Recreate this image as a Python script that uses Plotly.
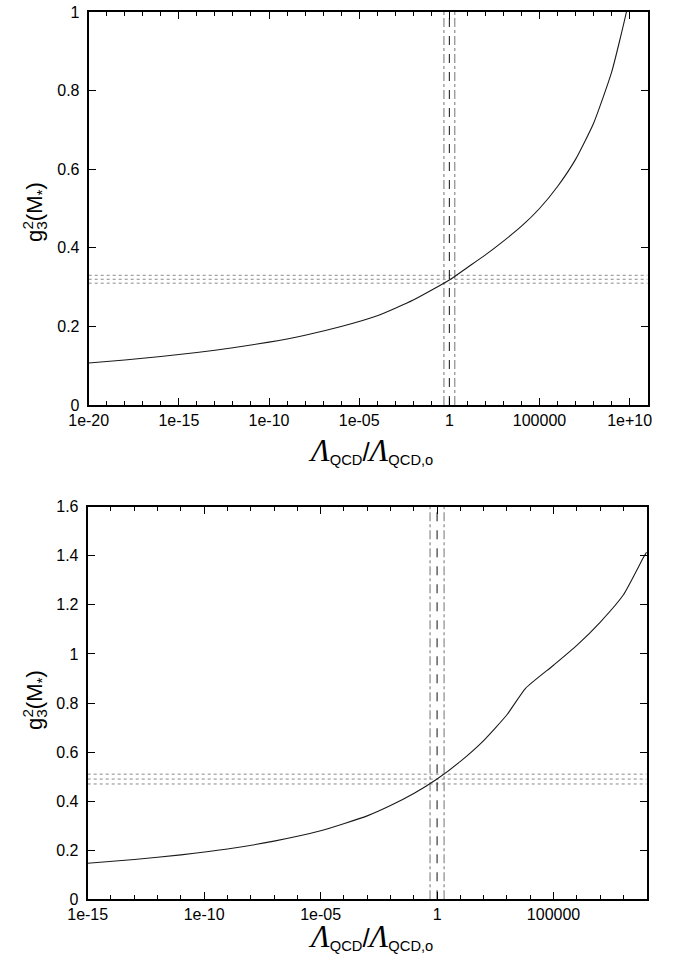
import plotly.graph_objects as go

# ---------------- data ----------------
# top panel: log10(Lambda_QCD / Lambda_QCD,o) and g3^2(M*)
top_logx = [-20, -18, -16, -14, -12, -10, -8, -6, -4, -2, 0, 1, 2, 3, 4, 5, 6, 7, 8, 9, 9.82, 10.3]
top_g2 = [0.107, 0.1145, 0.1233, 0.1335, 0.1456, 0.160, 0.1776, 0.1996, 0.227, 0.267, 0.318,
          0.350, 0.382, 0.417, 0.455, 0.500, 0.556, 0.625, 0.717, 0.847, 1.000, 1.117]
top_hlines = [0.33, 0.32, 0.31]

# bottom panel
bot_logx = [-15, -13, -11, -9, -7, -5, -3, -2, -1, 0, 1, 2, 3, 3.79, 5, 6, 7, 8, 8.87, 9.0]
bot_g2 = [0.147, 0.162, 0.181, 0.205, 0.237, 0.279, 0.340, 0.382, 0.431, 0.490, 0.562,
          0.647, 0.752, 0.859, 0.954, 1.035, 1.129, 1.241, 1.395, 1.415]
bot_hlines = [0.51, 0.49, 0.47]

# vertical reference lines (Lambda ratio)
vlines = [0.5, 1.0, 2.0]

top_xticks = [1e-20, 1e-15, 1e-10, 1e-5, 1, 1e5, 1e10]
top_xticktext = ["1e-20", "1e-15", "1e-10", "1e-05", "1", "100000", "1e+10"]
bot_xticks = [1e-15, 1e-10, 1e-5, 1, 1e5]
bot_xticktext = ["1e-15", "1e-10", "1e-05", "1", "100000"]
top_yticks = [0, 0.2, 0.4, 0.6, 0.8, 1.0]
top_yticktext = ["0", "0.2", "0.4", "0.6", "0.8", "1"]
bot_yticks = [0, 0.2, 0.4, 0.6, 0.8, 1.0, 1.2, 1.4, 1.6]
bot_yticktext = ["0", "0.2", "0.4", "0.6", "0.8", "1", "1.2", "1.4", "1.6"]

top_xrange_log = [-20, 11]
bot_xrange_log = [-15, 9]
top_yrange = [0, 1]
bot_yrange = [0, 1.6]

# ---------------- figure ----------------
W, H = 675, 962
FONT = "Liberation Sans, Arial, Helvetica, sans-serif"
fig = go.Figure()

def add_panel(xa, ya, logx, g2, hl, xr, yr):
    xs = [10 ** v for v in logx]
    lo, hi = 10 ** xr[0], 10 ** xr[1]
    for h in hl:
        fig.add_trace(go.Scatter(x=[lo, hi], y=[h, h], mode="lines", xaxis=xa, yaxis=ya,
                                 line=dict(color="#8a8a8a", width=1, dash="dot"), showlegend=False,
                                 hoverinfo="skip"))
    for v in vlines:
        if v == 1.0:
            ln = dict(color="#111111", width=1, dash="dash")
        else:
            ln = dict(color="#8a8a8a", width=1.2, dash="dashdot")
        fig.add_trace(go.Scatter(x=[v, v], y=[yr[0], yr[1]], mode="lines", xaxis=xa, yaxis=ya,
                                 line=ln, showlegend=False, hoverinfo="skip"))
    fig.add_trace(go.Scatter(x=xs, y=g2, mode="lines", xaxis=xa, yaxis=ya,
                             line=dict(color="#1a1a1a", width=1.1, shape="spline", smoothing=0.5),
                             showlegend=False))

add_panel("x", "y", top_logx, top_g2, top_hlines, top_xrange_log, top_yrange)
add_panel("x2", "y2", bot_logx, bot_g2, bot_hlines, bot_xrange_log, bot_yrange)

axis_common = dict(showline=True, linecolor="black", linewidth=2, mirror="ticks",
                   ticks="inside", ticklen=7, tickwidth=1.2, tickcolor="black",
                   showgrid=False, zeroline=False, automargin=False,
                   tickfont=dict(family=FONT, size=16, color="black"))

def minor_ticks(xr):
    return dict(ticks="inside", ticklen=4, tickwidth=1, tickcolor="black",
                tickmode="array", tickvals=[10 ** k for k in range(xr[0], xr[1] + 1)], showgrid=False)

fig.update_layout(
    width=W, height=H,
    margin=dict(l=0, r=0, t=0, b=0, autoexpand=False),
    paper_bgcolor="white", plot_bgcolor="white",
    xaxis=dict(type="log", domain=[88.7 / W, 647.7 / W], anchor="y", range=top_xrange_log,
               tickmode="array", tickvals=top_xticks, ticktext=top_xticktext,
               ticklabelstandoff=0, minor=minor_ticks(top_xrange_log), **axis_common),
    yaxis=dict(domain=[(H - 405) / H, (H - 12) / H], anchor="x", range=top_yrange,
               tickmode="array", tickvals=top_yticks, ticktext=top_yticktext,
               ticklabelstandoff=4, **axis_common),
    xaxis2=dict(type="log", domain=[87.7 / W, 646.7 / W], anchor="y2", range=bot_xrange_log,
                tickmode="array", tickvals=bot_xticks, ticktext=bot_xticktext,
                ticklabelstandoff=-1, minor=minor_ticks(bot_xrange_log), **axis_common),
    yaxis2=dict(domain=[(H - 899.3) / H, (H - 506.7) / H], anchor="x2", range=bot_yrange,
                tickmode="array", tickvals=bot_yticks, ticktext=bot_yticktext,
                ticklabelstandoff=4, **axis_common),
)

ytitle = "g<sub>3</sub>(M<sub>*</sub>)"
lam = "<span style=\"font-family:'Liberation Serif', 'Times New Roman', serif;font-style:italic;font-size:31px\">Λ</span>"
xtitle = lam + "<sub>QCD</sub><span style=\"font-size:26px\">/</span>" + lam + "<sub>QCD,o</sub>"

for ycen in [212, 700]:
    fig.add_annotation(text=ytitle, xref="paper", yref="paper", x=36 / W, y=(H - ycen) / H,
                       showarrow=False, textangle=-90, xanchor="center", yanchor="middle",
                       font=dict(family=FONT, size=22, color="black"))
    # superscript "2" stacked above the subscript "3"
    fig.add_annotation(text="2", xref="paper", yref="paper", x=27 / W, y=(H - ycen - 13.5) / H,
                       showarrow=False, textangle=-90, xanchor="center", yanchor="middle",
                       font=dict(family=FONT, size=15.4, color="black"))
for yc in [(H - 450) / H, (H - 936) / H]:
    fig.add_annotation(text=xtitle, xref="paper", yref="paper", x=370 / W, y=yc,
                       showarrow=False, xanchor="center", yanchor="middle",
                       font=dict(family=FONT, size=21, color="black"))

fig.write_html("out.html", config={"displayModeBar": False},
               post_script="document.body.style.margin='0';document.body.style.padding='0';")
